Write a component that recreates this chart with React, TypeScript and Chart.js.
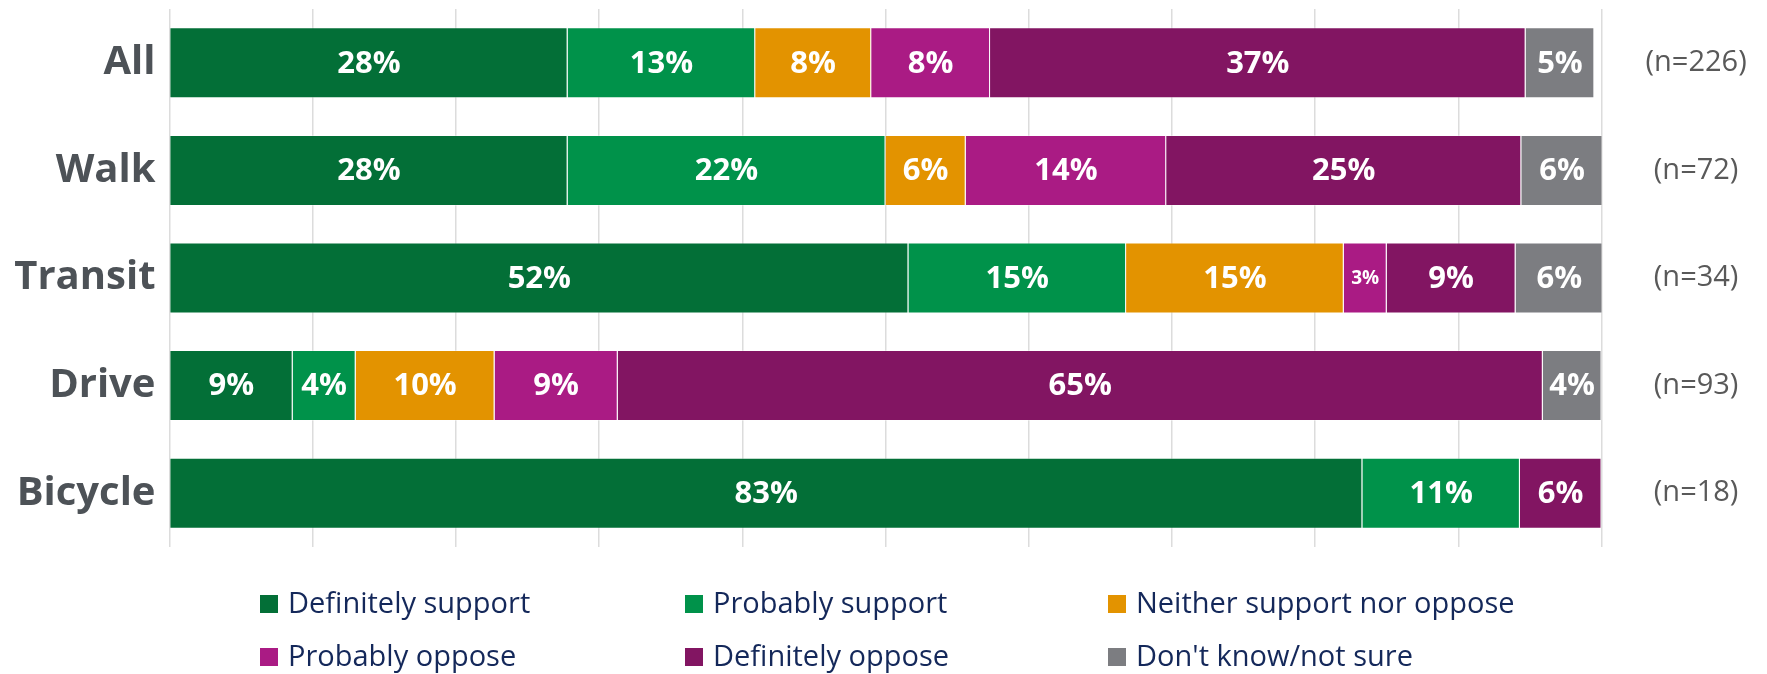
import React, { useEffect, useRef } from 'react';
import { Chart, registerables } from 'chart.js';

Chart.register(...registerables);

const categories = ['All', 'Walk', 'Transit', 'Drive', 'Bicycle'];
const sampleSizes = ['(n=226)', '(n=72)', '(n=34)', '(n=93)', '(n=18)'];
const seriesNames = [
  'Definitely support',
  'Probably support',
  'Neither support nor oppose',
  'Probably oppose',
  'Definitely oppose',
  "Don't know/not sure",
];
const seriesColors = ['#036f37', '#00924a', '#e39300', '#aa1b84', '#821562', '#7c7d81'];

const definitelySupport = [27.8, 27.8, 51.6, 8.6, 83.3];
const probablySupport = [13.1, 22.2, 15.2, 4.4, 11.0];
const neitherSupportNorOppose = [8.1, 5.6, 15.2, 9.7, 0];
const probablyOppose = [8.3, 14.0, 3.0, 8.6, 0];
const definitelyOppose = [37.4, 24.8, 9.0, 64.6, 5.7];
const dontKnow = [4.8, 5.7, 6.1, 4.1, 0];

const seriesValues = [
  definitelySupport,
  probablySupport,
  neitherSupportNorOppose,
  probablyOppose,
  definitelyOppose,
  dontKnow,
];

const FONT = '"Open Sans", "Noto Sans", sans-serif';

const barLabelPlugin = {
  id: 'barLabels',
  afterDatasetsDraw(chart: any) {
    const ctx = chart.ctx;
    ctx.save();
    ctx.fillStyle = '#ffffff';
    ctx.textAlign = 'center';
    ctx.textBaseline = 'middle';
    chart.data.datasets.forEach((ds: any, i: number) => {
      const meta = chart.getDatasetMeta(i);
      meta.data.forEach((el: any, j: number) => {
        const v = ds.data[j];
        if (!v) return;
        const { x, base, y } = el.getProps(['x', 'base', 'y'], true);
        const w = Math.abs(x - base);
        const text = Math.round(v) + '%';
        ctx.font = `bold 31px ${FONT}`;
        if (ctx.measureText(text).width + 10 > w) ctx.font = `bold 19px ${FONT}`;
        ctx.fillText(text, (x + base) / 2, y + 1);
      });
    });
    ctx.restore();
  },
};

const gridLegendPlugin = {
  id: 'gridLegend',
  afterDraw(chart: any) {
    const ctx = chart.ctx;
    const cols = [260, 685, 1108];
    const rows = [604, 657];
    const box = 18;
    ctx.save();
    ctx.textAlign = 'left';
    ctx.textBaseline = 'middle';
    ctx.font = `29px ${FONT}`;
    chart.data.datasets.forEach((ds: any, i: number) => {
      const cx = cols[i % 3];
      const cy = rows[Math.floor(i / 3)];
      ctx.fillStyle = ds.backgroundColor;
      ctx.fillRect(cx, cy - box / 2, box, box);
      ctx.fillStyle = '#14285a';
      ctx.fillText(ds.label, cx + box + 10, cy + 1);
    });
    ctx.restore();
  },
};

const noVerticalPadding = (s: any) => {
  s.paddingTop = 0;
  s.paddingBottom = 0;
};

export default function App() {
  const canvasRef = useRef<HTMLCanvasElement | null>(null);

  useEffect(() => {
    const canvas = canvasRef.current;
    if (!canvas) return;
    const chart = new Chart(canvas, {
      type: 'bar',
      data: {
        labels: categories,
        datasets: seriesNames.map((name, i) => ({
          label: name,
          data: seriesValues[i],
          backgroundColor: seriesColors[i],
          borderColor: 'rgba(255,255,255,0.35)',
          borderWidth: 1,
          barPercentage: 0.66,
          categoryPercentage: 1,
        })),
      },
      options: {
        indexAxis: 'y',
        responsive: false,
        animation: false,
        layout: { padding: { top: 9, bottom: 127, left: 0, right: 0 } },
        plugins: {
          legend: { display: false },
          tooltip: { enabled: false },
        },
        scales: {
          x: {
            stacked: true,
            min: 0,
            max: 100,
            ticks: { display: false, stepSize: 10 },
            grid: { color: '#dcdcdc', lineWidth: 1.5, drawTicks: false },
            border: { display: false },
            afterFit: (s: any) => {
              s.height = 0;
              s.paddingLeft = 0;
              s.paddingRight = 0;
            },
          },
          y: {
            stacked: true,
            position: 'left',
            grid: { display: false, drawTicks: false },
            border: { display: false },
            ticks: {
              color: '#4d5257',
              font: { family: FONT, size: 40, weight: 'bold' },
              padding: 14,
            },
            afterFit: (s: any) => {
              s.width = 169.5;
              noVerticalPadding(s);
            },
          },
          y2: {
            type: 'category',
            labels: sampleSizes,
            position: 'right',
            offset: true,
            grid: { display: false, drawTicks: false },
            border: { display: false },
            ticks: {
              color: '#595959',
              font: { family: FONT, size: 29 },
              crossAlign: 'center',
              padding: 44,
            },
            afterFit: (s: any) => {
              s.width = 165.5;
              noVerticalPadding(s);
            },
          },
        },
      } as any,
      plugins: [barLabelPlugin, gridLegendPlugin],
    });
    return () => chart.destroy();
  }, []);

  return (
    <div style={{ position: 'absolute', left: 0, top: 0, width: 1767, height: 674, background: '#fff' }}>
      <canvas ref={canvasRef} width={1767} height={674} />
    </div>
  );
}
